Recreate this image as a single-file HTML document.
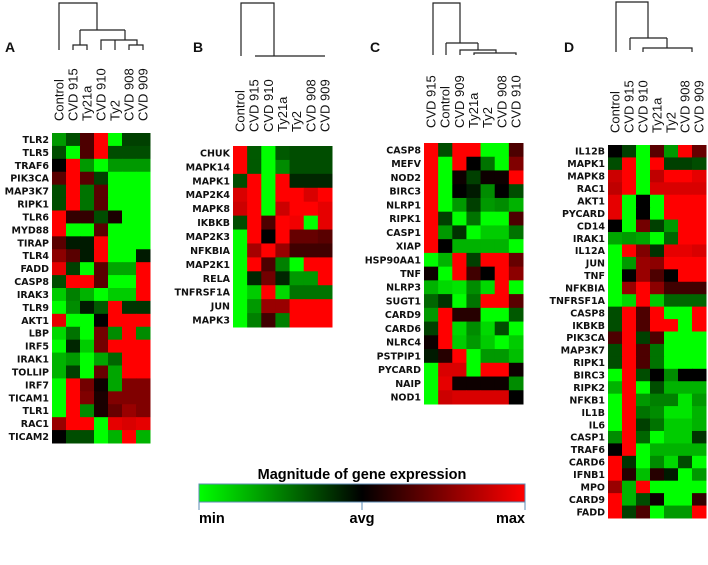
<!DOCTYPE html>
<html><head><meta charset="utf-8"><style>
body{margin:0;background:#fff;width:708px;height:565px;overflow:hidden}
svg{display:block}
.rl{font-family:"DejaVu Sans",sans-serif;font-weight:bold;font-size:9.5px;fill:#111}
.cl{font-family:"Liberation Sans",sans-serif;font-size:13px;fill:#111}
.pl{font-family:"Liberation Sans",sans-serif;font-weight:bold;font-size:14px;fill:#111}
.dg{stroke:#222;stroke-width:1.2;fill:none}
</style></head><body>
<svg id="chart" width="708" height="565">
<defs><linearGradient id="grad" x1="0" x2="1" y1="0" y2="0">
<stop offset="0" stop-color="#00ff00"/><stop offset="0.5" stop-color="#000"/><stop offset="1" stop-color="#ff0000"/></linearGradient></defs>
<g>
<path class="dg" d="M59,50V3H97V30M80,30H125M80,30V45H73V50M80,45H87V50M125,30V40H101V50M125,40H115V50M115,40H137V45H129V50M137,45H143V50"/></g>
<g>
<path class="dg" d="M241,56V3H274V56M255,56H325"/></g>
<g>
<path class="dg" d="M433,55V3H460V43M446,43H478M446,43V55M478,43V50H460V55M478,50H496V53H474V55M496,53H516V55"/></g>
<g>
<path class="dg" d="M616,52V2H648V38M630,38H667M630,38V50M667,38V48H643V52M667,48H692V52"/></g>
<text class="pl" x="5" y="52">A</text>
<text class="pl" x="193" y="52">B</text>
<text class="pl" x="370" y="52">C</text>
<text class="pl" x="564" y="52">D</text>
<g>
<text x="362" y="479" text-anchor="middle" style="font-family:'Liberation Sans',sans-serif;font-weight:bold;font-size:14.5px">Magnitude of gene expression</text>
<rect x="199" y="484" width="326" height="18" fill="url(#grad)" stroke="#5b8bb5" stroke-width="1"/>
<path d="M199,502V510M362,502V510M525,502V510" stroke="#5b8bb5" stroke-width="1"/>
<text x="199" y="523" style="font-family:'Liberation Sans',sans-serif;font-weight:bold;font-size:14.5px">min</text>
<text x="362" y="523" text-anchor="middle" style="font-family:'Liberation Sans',sans-serif;font-weight:bold;font-size:14.5px">avg</text>
<text x="525" y="523" text-anchor="end" style="font-family:'Liberation Sans',sans-serif;font-weight:bold;font-size:14.5px">max</text>
</g>
</svg>
<script>
const colsA=["Control","CVD 915","Ty21a","CVD 910","Ty2","CVD 908","CVD 909"];
const rowsA=["TLR2","TLR5","TRAF6","PIK3CA","MAP3K7","RIPK1","TLR6","MYD88","TIRAP","TLR4","FADD","CASP8","IRAK3","TLR9","AKT1","LBP","IRF5","IRAK1","TOLLIP","IRF7","TICAM1","TLR1","RAC1","TICAM2"];
const valsA=[
[-0.6,-0.3,0.3,1,-1,-0.25,-0.25],
[-0.3,-1,0.3,1,-0.3,-0.3,-0.3],
[0,1,-0.6,-1,-0.6,-0.6,-0.6],
[0.35,1,0.35,-0.25,-1,-1,-1],
[-0.3,1,-0.45,0.35,-1,-1,-1],
[-0.3,1,-0.45,0.35,-1,-1,-1],
[1,0.2,0.2,-0.3,0.1,-1,-1],
[1,-1,-1,0.35,-1,-1,-1],
[0.35,-0.1,-0.1,1,-1,-1,-1],
[0.55,0.35,-0.1,1,-1,-1,-0.1],
[0.9,-0.25,-1,0.35,-0.65,-0.65,1],
[-0.3,1,1,0.35,-1,-1,1],
[-0.8,-0.5,-0.7,-1,-0.8,-0.8,1],
[-1,-0.55,-0.1,-0.35,1,-0.2,-0.2],
[0.9,-1,-1,0,1,1,1],
[-0.85,-0.45,-1,0.45,-0.55,1,-0.55],
[-1,-0.15,-0.8,0.45,1,1,1],
[-0.7,-0.6,-1,-0.65,-0.4,1,1],
[-0.7,-0.25,-1,0.4,-0.65,1,1],
[-1,1,0.45,0.05,-0.65,0.5,0.5],
[-1,1,0.5,0.1,0.5,0.5,0.5],
[-1,1,-0.55,0.1,0.4,0.6,0.5],
[0.6,1,1,-1,0.9,0.85,0.9],
[0,-0.3,-0.3,-1,-0.7,1,-0.7]];
const colsB=["Control","CVD 915","CVD 910","Ty21a","Ty2","CVD 908","CVD 909"];
const rowsB=["CHUK","MAPK14","MAPK1","MAP2K4","MAPK8","IKBKB","MAP2K3","NFKBIA","MAP2K1","RELA","TNFRSF1A","JUN","MAPK3"];
const valsB=[
[1,-0.35,-1,-0.35,-0.3,-0.3,-0.3],
[1,-0.35,-1,-0.55,-0.3,-0.3,-0.3],
[-0.3,1,-1,1,-0.15,-0.15,-0.15],
[0.85,1,-1,1,1,0.85,1],
[0.8,1,-1,0.8,1,1,0.9],
[-0.3,1,0.3,1,0.95,-1,0.9],
[-1,1,0,1,0.4,0.4,0.35],
[-1,0.65,1,0.6,0.25,0.25,0.25],
[-1,1,0.3,-0.5,-1,1,1],
[-1,-0.15,0.45,-0.15,-0.6,-0.6,1],
[-1,-0.8,1,-0.85,-0.45,-0.45,-0.45],
[-1,-0.6,0.6,0.6,1,1,1],
[-1,-0.5,0.25,-0.5,1,1,1]];
const colsC=["CVD 915","Control","CVD 909","Ty21a","Ty2","CVD 908","CVD 910"];
const rowsC=["CASP8","MEFV","NOD2","BIRC3","NLRP1","RIPK1","CASP1","XIAP","HSP90AA1","TNF","NLRP3","SUGT1","CARD9","CARD6","NLRC4","PSTPIP1","PYCARD","NAIP","NOD1"];
const valsC=[
[1,-0.3,1,1,-1,-1,0.3],
[1,-1,1,0,-0.45,-1,0.5],
[1,-1,0.05,-0.25,0.05,0.05,1],
[1,-1,0,-0.1,-0.55,0,-0.3],
[1,-1,-0.6,-0.25,-0.6,-0.55,-0.7],
[1,-0.25,-1,-0.45,-1,-1,0.3],
[1,-0.6,-0.2,-1,-0.8,-0.8,-0.45],
[1,0,-0.7,-0.7,-0.7,-0.7,-1],
[-1,-0.7,1,-0.25,1,1,0.4],
[0.05,-1,1,0.25,0,1,0.55],
[-0.7,-0.85,-0.9,-0.55,-0.85,1,-1],
[-0.4,-0.2,-1,-0.45,1,1,0.35],
[-0.6,1,0.15,0.15,-1,-1,-0.35],
[-0.25,1,-0.85,-0.55,-0.85,-0.3,-1],
[0.05,1,-0.8,-0.6,-0.8,-1,-0.8],
[-0.1,0.15,1,-1,-0.6,-0.6,-0.75],
[-1,0.85,0.85,-1,1,1,0.05],
[-1,0.9,0.05,0.05,0.05,0.05,-0.55],
[-1,0.8,0.85,0.85,0.85,0.85,0]];
const colsD=["Control","CVD 915","CVD 910","Ty21a","Ty2","CVD 908","CVD 909"];
const rowsD=["IL12B","MAPK1","MAPK8","RAC1","AKT1","PYCARD","CD14","IRAK1","IL12A","JUN","TNF","NFKBIA","TNFRSF1A","CASP8","IKBKB","PIK3CA","MAP3K7","RIPK1","BIRC3","RIPK2","NFKB1","IL1B","IL6","CASP1","TRAF6","CARD6","IFNB1","MPO","CARD9","FADD"];
const valsD=[
[0,-0.25,-1,0.35,-0.6,1,0.4],
[-0.3,1,-1,1,-0.25,-0.25,-0.3],
[0.8,1,-1,0.75,1,1,0.9],
[0.75,1,-1,0.85,0.85,0.85,0.85],
[0.9,-1,0,-1,1,1,1],
[0.9,-1,0,-1,1,1,1],
[0,-1,0.45,-0.25,-0.6,1,1],
[-0.65,-0.6,-0.65,-1,-0.4,1,1],
[-1,1,0.5,-0.2,0.9,0.9,0.85],
[-1,-0.6,0.6,0.55,1,1,1],
[-1,0,0.6,0.3,0,1,1],
[-1,0.6,1,0.55,0.25,0.25,0.25],
[-1,-0.85,1,-0.8,-0.4,-0.4,-0.4],
[-0.3,1,0.3,1,-1,-1,1],
[-0.3,1,0.3,1,1,-1,1],
[0.3,1,-0.25,0.3,-1,-1,-1],
[-0.3,1,0.3,-0.45,-1,-1,-1],
[-0.3,1,0.3,-0.45,-1,-1,-1],
[-1,1,-0.3,0,-0.55,0,0],
[-0.7,1,-1,-0.3,-0.7,-0.7,-0.7],
[-1,1,-0.6,-0.5,-0.5,-0.9,-0.6],
[-1,1,-0.45,-0.55,-0.9,-0.9,-0.7],
[-1,1,-0.25,-0.45,-0.8,-0.8,-0.7],
[-0.55,1,-0.4,-1,-0.8,-0.8,-0.2],
[0,1,-1,-0.7,-0.7,-0.7,-0.7],
[1,-0.2,-1,-0.55,-0.85,-0.3,-1],
[1,0.15,-0.75,0.15,-0.1,-1,-0.6],
[0.6,-0.7,1,-1,-1,-1,-1],
[1,-0.7,-0.3,0.05,-1,-1,0.2],
[1,-0.25,0.3,-1,-0.6,-0.6,1]];

const NS="http://www.w3.org/2000/svg";
const svg=document.getElementById('chart');
function color(v){v=Math.max(-1,Math.min(1,v));
  return v<0?`rgb(0,${Math.round(-v*255)},0)`:`rgb(${Math.round(v*255)},0,0)`;}
function panel(id,cols,rows,vals,x0,x1,y0,y1,labBase){
  const g=document.createElementNS(NS,'g');
  
  
  svg.appendChild(g);
  const cw=(x1-x0)/cols.length, rh=(y1-y0)/rows.length;
  const xs=j=>x0+j*cw, ys=i=>y0+i*rh;
  cols.forEach((c,j)=>{
    const t=document.createElementNS(NS,'text');
    t.setAttribute('class','cl');
    const cx=xs(j)+cw/2+4.5;
    t.setAttribute('transform',`translate(${cx},${labBase}) rotate(-90)`);
    t.textContent=c;
    
    
    g.appendChild(t);
  });
  rows.forEach((r,i)=>{
    const t=document.createElementNS(NS,'text');
    t.setAttribute('class','rl');
    t.setAttribute('x',x0-3);
    t.setAttribute('y',ys(i)+rh/2+3.5);
    t.setAttribute('text-anchor','end');
    t.textContent=r;
    
    
    g.appendChild(t);
    vals[i].forEach((v,j)=>{
      const rc=document.createElementNS(NS,'rect');
      rc.setAttribute('x',xs(j));rc.setAttribute('y',ys(i));
      rc.setAttribute('width',cw+0.5);rc.setAttribute('height',rh+0.5);
      rc.setAttribute('fill',color(v));
      
      
      g.appendChild(rc);
    });
  });
}
panel('a',colsA,rowsA,valsA,52,150,133,443,121);
panel('b',colsB,rowsB,valsB,233,332,146,327,132);
panel('c',colsC,rowsC,valsC,424,523,143,404,128);
panel('d',colsD,rowsD,valsD,608,706,145,518,133);
</script>
</body></html>
